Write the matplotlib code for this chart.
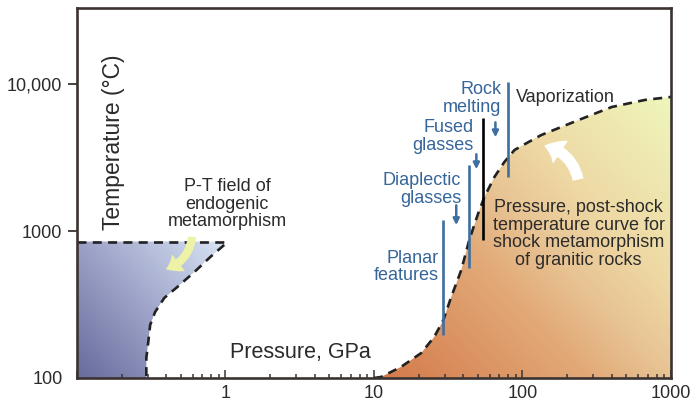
import numpy as np
import matplotlib
matplotlib.use("Agg")
import matplotlib.pyplot as plt
from matplotlib.colors import LinearSegmentedColormap
from matplotlib.patches import Polygon, FancyArrowPatch, ArrowStyle

plt.rcParams["font.family"] = ["Liberation Sans", "DejaVu Sans"]

INK = "#2b2b2b"
FRAME = "#3b3331"
BLUE_TXT = "#36659a"
BLUE_LN = "#3d6fa0"

# shock curve: pressure (GPa) vs post-shock temperature (C)
shock_p = [10, 11.15, 15.2, 20.8, 25.4, 29.3, 33.1, 38.7, 43.8, 50.4, 55.4, 64.7,
           75.5, 88.3, 110, 134, 183, 239, 399, 667, 1000]
shock_t = [100, 101.6, 119, 148, 190, 248, 356, 544, 871, 1330, 1710, 2340,
           2960, 3570, 4050, 4520, 5130, 5720, 7010, 7830, 8210]

# endogenic metamorphism field: top edge + right boundary
endo_top_p = [0.1, 1.07]
endo_top_t = [850, 850]
endo_p = [0.98, 0.79, 0.617, 0.474, 0.387, 0.336, 0.311, 0.302, 0.293, 0.293]
endo_t = [806, 667, 527, 417, 351, 282, 230, 176, 137, 100]

# shock-effect onset lines (pressure, T bottom, T top)
onset_p = [29.3, 43.8, 80.4]
onset_lo = [196, 561, 2340]
onset_hi = [1190, 2820, 10400]
melt_p, melt_lo, melt_hi = 54.5, 871, 5900

labels = ["Planar\nfeatures", "Diaplectic\nglasses", "Fused\nglasses", "Rock\nmelting"]
label_p = [27.1, 38.7, 46.7, 72]
label_t = [569, 1930, 4430, 8030]
arrow_p = [35.8, 48.9, 65.7]
arrow_t0 = [1500, 3340, 5510]
arrow_t1 = [1100, 2640, 4360]

fig = plt.figure(figsize=(6.93, 4.05), dpi=100)
ax = fig.add_axes([77 / 693, 27 / 405, 594 / 693, 370 / 405])
ax.set_xscale("log")
ax.set_yscale("log")
ax.set_xlim(0.1, 1000)
ax.set_ylim(100, 10 ** 4.52)
ax.set_autoscale_on(False)


def gradient_fill(verts, start, end, colors, z):
    poly = Polygon(verts, closed=True, transform=ax.transData,
                   facecolor="none", edgecolor="none")
    ax.add_patch(poly)
    n = 300
    xx, yy = np.meshgrid(np.linspace(0, 1, n), np.linspace(0, 1, n))
    w, h = 594, 370  # gradient computed in pixel-like space
    dx, dy = (end[0] - start[0]) * w, (end[1] - start[1]) * h
    t = ((xx - start[0]) * w * dx + (yy - start[1]) * h * dy) / (dx * dx + dy * dy)
    t = np.clip(t, 0, 1)
    cmap = LinearSegmentedColormap.from_list("g", colors)
    im = ax.imshow(t, cmap=cmap, vmin=0, vmax=1, extent=[0, 1, 0, 1],
                   transform=ax.transAxes, origin="lower", aspect="auto",
                   interpolation="bilinear", zorder=z)
    im.set_clip_path(poly)


# endogenic field (blue)
endo_verts = list(zip([0.1, 0.1, 1.0] + endo_p, [100, 850, 850] + endo_t))
gradient_fill(endo_verts, (0.0, 0.0), (0.26, 0.37),
              [(0, "#686b9c"), (0.5, "#a2a8cc"), (1, "#dbe7f6")], 1)

# shock field (orange -> yellow)
shock_verts = list(zip(shock_p + [1000], shock_t + [100]))
gradient_fill(shock_verts, (0.497, 0.0), (1.0, 0.76),
              [(0, "#d4784a"), (0.39, "#e2aa78"), (0.53, "#e8c393"),
               (0.68, "#eed8a4"), (1, "#eef6bb")], 1)

dash = (0, (3.4, 2.4))
ax.plot(shock_p, shock_t, color="#222222", lw=1.9, ls=dash, zorder=4)
ax.plot(endo_top_p, endo_top_t, color="#222222", lw=1.9, ls=dash, zorder=4)
ax.plot(endo_p, endo_t, color="#222222", lw=1.9, ls=dash, zorder=4)

for p, lo, hi in zip(onset_p, onset_lo, onset_hi):
    ax.plot([p, p], [lo, hi], color=BLUE_LN, lw=1.9, zorder=5, solid_capstyle="butt")
ax.plot([melt_p, melt_p], [melt_lo, melt_hi], color="black", lw=1.9, zorder=5,
        solid_capstyle="butt")

for s, p, t in zip(labels, label_p, label_t):
    ax.text(p, t, s, color=BLUE_TXT, fontsize=13, ha="right", va="center",
            multialignment="right", linespacing=1.05, zorder=6)

for p, t0, t1 in zip(arrow_p, arrow_t0, arrow_t1):
    ax.annotate("", xy=(p, t1), xytext=(p, t0),
                arrowprops=dict(arrowstyle="-|>", color=BLUE_LN, lw=1.8,
                                mutation_scale=9, shrinkA=0, shrinkB=0), zorder=6)

ax.text(91, 8160, "Vaporization", color=INK, fontsize=13, ha="left", va="center")
ax.text(239, 955, "Pressure, post-shock\ntemperature curve for\nshock metamorphism\nof granitic rocks",
        color=INK, fontsize=13, ha="center", va="center", linespacing=1.05, zorder=6)
ax.text(1.03, 1527, "P-T field of\nendogenic\nmetamorphism", color=INK, fontsize=13,
        ha="center", va="center", linespacing=1.05, zorder=6)
ax.text(3.21, 150, "Pressure, GPa", color=INK, fontsize=15.5, ha="center", va="center")
ax.text(0.061, 0.638, "Temperature (°C)", color=INK, fontsize=16.5, rotation=90,
        ha="center", va="center", transform=ax.transAxes)

ax.add_patch(FancyArrowPatch((239, 2150), (134, 3850), connectionstyle="arc3,rad=0.35",
                             arrowstyle=ArrowStyle.Simple(head_length=0.6, head_width=0.95,
                                                          tail_width=0.38),
                             mutation_scale=21, color="white", lw=0, zorder=6))
ax.add_patch(FancyArrowPatch((0.598, 955), (0.381, 543), connectionstyle="arc3,rad=-0.35",
                             arrowstyle=ArrowStyle.Simple(head_length=0.6, head_width=0.9,
                                                          tail_width=0.35),
                             mutation_scale=17, color="#eef2a6", lw=0, zorder=6))

# axes styling
for s in ax.spines.values():
    s.set_color(FRAME)
    s.set_linewidth(1.9)
    s.set_zorder(7)
ax.set_yticks([100, 1000, 10000])
ax.set_yticklabels(["100", "1000", "10,000"])
ax.yaxis.set_minor_locator(matplotlib.ticker.NullLocator())
ax.tick_params(axis="y", which="major", direction="out", length=6.5, width=1.3,
               color=FRAME, labelsize=13, labelcolor=INK, pad=4)
ax.yaxis.get_major_ticks()[0].tick1line.set_visible(False)
ax.set_xticks([0.1, 1, 10, 100, 1000])
ax.set_xticklabels(["", "1", "10", "100", "1000"])
ax.xaxis.set_minor_locator(matplotlib.ticker.LogLocator(base=10, subs=np.arange(2, 10)))
ax.xaxis.set_minor_formatter(matplotlib.ticker.NullFormatter())
ax.tick_params(axis="x", which="major", direction="in", length=5.5, width=1.1,
               color=FRAME, labelsize=13, labelcolor=INK, pad=5)
ax.tick_params(axis="x", which="minor", direction="in", length=3, width=1.1, color=FRAME)

fig.savefig("out.png", dpi=100)
